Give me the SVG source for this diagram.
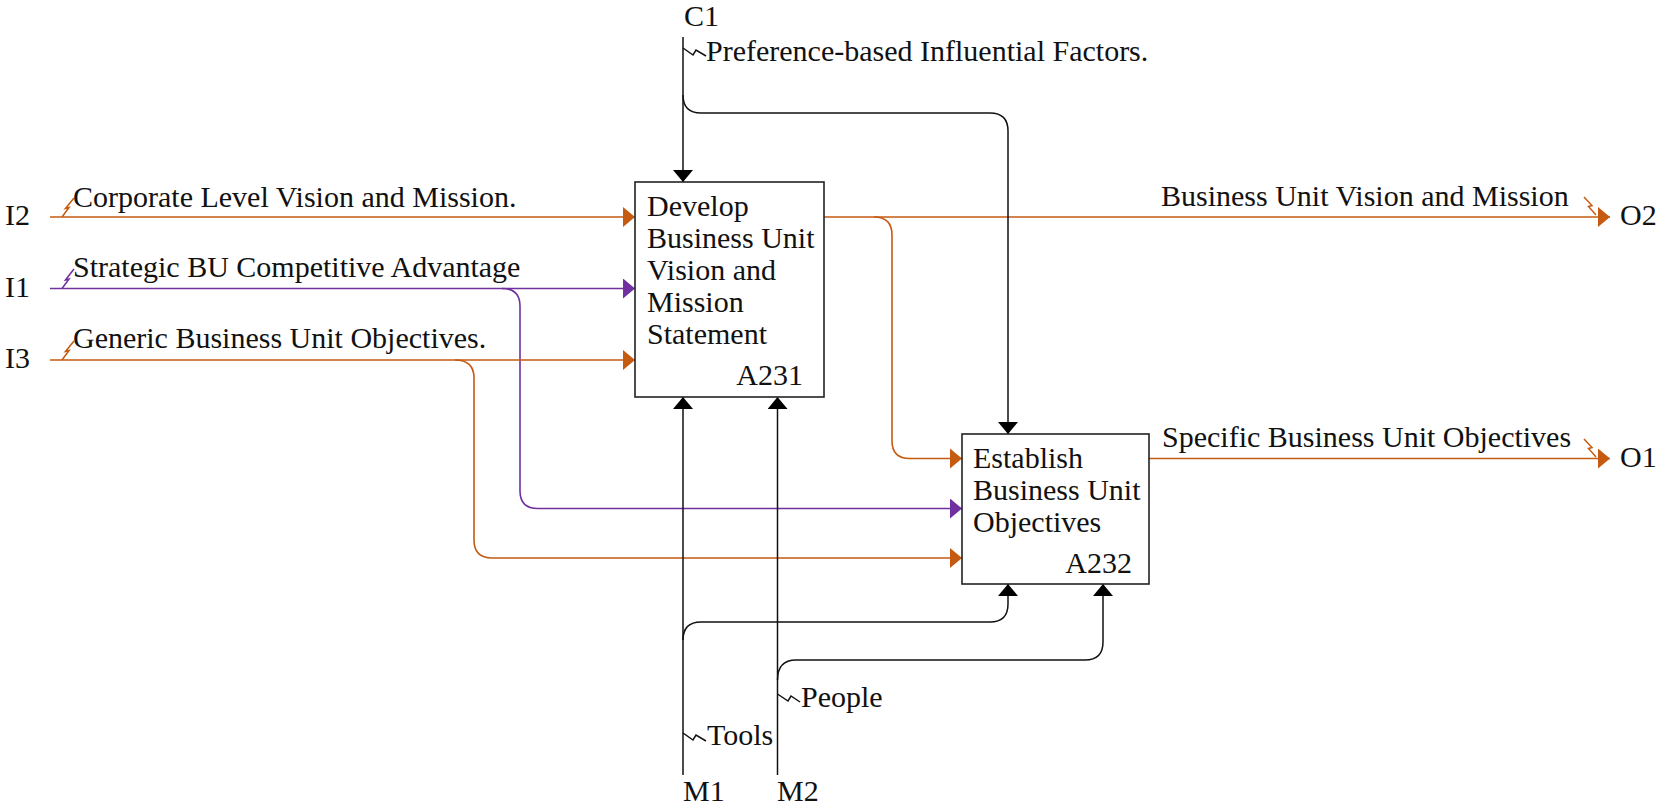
<svg xmlns="http://www.w3.org/2000/svg" width="1664" height="811" viewBox="0 0 1664 811">
  <style>
    text { font-family: "Liberation Serif", "Times New Roman", serif; font-size: 30px; fill: #111; }
    .end { text-anchor: end; }
    .box { fill: #fff; stroke: #222; stroke-width: 1.6; }
    .k { fill: none; stroke: #111; stroke-width: 1.5; }
    .o { fill: none; stroke: #C55A11; stroke-width: 1.6; }
    .p { fill: none; stroke: #7030A0; stroke-width: 1.6; }
    .sq { fill: none; stroke-width: 1.5; stroke-linejoin: miter; }
  </style>
  <defs>
    <marker id="ak" viewBox="0 0 12 20" refX="12" refY="10" markerWidth="12" markerHeight="20" markerUnits="userSpaceOnUse" orient="auto">
      <path d="M0,0 L12,10 L0,20 z" fill="#000"/>
    </marker>
    <marker id="ao" viewBox="0 0 12 20" refX="12" refY="10" markerWidth="12" markerHeight="20" markerUnits="userSpaceOnUse" orient="auto">
      <path d="M0,0 L12,10 L0,20 z" fill="#C55A11"/>
    </marker>
    <marker id="ap" viewBox="0 0 12 20" refX="12" refY="10" markerWidth="12" markerHeight="20" markerUnits="userSpaceOnUse" orient="auto">
      <path d="M0,0 L12,10 L0,20 z" fill="#7030A0"/>
    </marker>
  </defs>

  <!-- arrows (inputs, controls, outputs, mechanisms) -->
  <g id="connectors">
    <!-- I2 -->
    <path class="o" d="M50,217 H635" marker-end="url(#ao)"/>
    <!-- I1 and its branch to A232 -->
    <path class="p" d="M50,288.5 H635" marker-end="url(#ap)"/>
    <path class="p" d="M502,288.5 Q520,288.5 520,306 V491 Q520,508.5 538,508.5 H962" marker-end="url(#ap)"/>
    <!-- I3 and its branch to A232 -->
    <path class="o" d="M50,360 H635" marker-end="url(#ao)"/>
    <path class="o" d="M455,360 Q474,360 474,378 V540 Q474,558 492,558 H962" marker-end="url(#ao)"/>
    <!-- A231 output to O2, branch into A232 -->
    <path class="o" d="M824,217 H1610" marker-end="url(#ao)"/>
    <path class="o" d="M874,217 Q892,217 892,235 V441 Q892,458.5 910,458.5 H962" marker-end="url(#ao)"/>
    <!-- A232 output to O1 -->
    <path class="o" d="M1149,458.5 H1610" marker-end="url(#ao)"/>
    <!-- C1 control -->
    <path class="k" d="M683,37 V182" marker-end="url(#ak)"/>
    <path class="k" d="M683,95 Q683,113 701,113 H990 Q1008,113 1008,131 V434" marker-end="url(#ak)"/>
    <!-- M1 mechanism -->
    <path class="k" d="M683,775 V397" marker-end="url(#ak)"/>
    <path class="k" d="M683,640 Q683,622 701,622 H990 Q1008,622 1008,604 V584" marker-end="url(#ak)"/>
    <!-- M2 mechanism -->
    <path class="k" d="M777.5,775 V397" marker-end="url(#ak)"/>
    <path class="k" d="M777.5,680 Q777.5,660 796,660 H1085 Q1103,660 1103,642 V584" marker-end="url(#ak)"/>

    <!-- label squiggles -->
    <polyline class="sq" stroke="#C55A11" points="62,217 69,207.5 65.5,208.5 74,198"/>
    <polyline class="sq" stroke="#7030A0" points="62,288.5 69,279 65.5,280 74,269"/>
    <polyline class="sq" stroke="#C55A11" points="62,360 69,350.5 65.5,351.5 74,341"/>
    <polyline class="sq" stroke="#C55A11" points="1584,197 1592,205.5 1588.5,206.5 1596,215"/>
    <polyline class="sq" stroke="#C55A11" points="1584,439 1592,447.5 1588.5,448.5 1596,457"/>
    <polyline class="sq" stroke="#111" points="683,48 693,55 696,50 706,56"/>
    <polyline class="sq" stroke="#111" points="683,733 693,740 696,735 706,741"/>
    <polyline class="sq" stroke="#111" points="777.5,694 788,701 791,696 800,702"/>
  </g>

  <g id="node-A231">
    <rect class="box" x="635" y="182" width="189" height="215"/>
    <text x="647" y="216">Develop</text>
    <text x="647" y="248">Business Unit</text>
    <text x="647" y="280">Vision and</text>
    <text x="647" y="312">Mission</text>
    <text x="647" y="344">Statement</text>
    <text class="end" x="803" y="385">A231</text>
  </g>

  <g id="node-A232">
    <rect class="box" x="962" y="434" width="187" height="150"/>
    <text x="973" y="468">Establish</text>
    <text x="973" y="500">Business Unit</text>
    <text x="973" y="532">Objectives</text>
    <text class="end" x="1132" y="573">A232</text>
  </g>

  <g id="labels">
    <text x="5" y="225">I2</text>
    <text x="5" y="297">I1</text>
    <text x="5" y="368">I3</text>
    <text x="73" y="207">Corporate Level Vision and Mission.</text>
    <text x="73" y="277">Strategic BU Competitive Advantage</text>
    <text x="73" y="348">Generic Business Unit Objectives.</text>
    <text x="684" y="26">C1</text>
    <text x="706" y="61">Preference-based Influential Factors.</text>
    <text x="1161" y="206">Business Unit Vision and Mission</text>
    <text x="1162" y="447">Specific Business Unit Objectives</text>
    <text x="1620" y="225">O2</text>
    <text x="1620" y="467">O1</text>
    <text x="683" y="801">M1</text>
    <text x="777" y="801">M2</text>
    <text x="707" y="745">Tools</text>
    <text x="801" y="707">People</text>
  </g>
</svg>
